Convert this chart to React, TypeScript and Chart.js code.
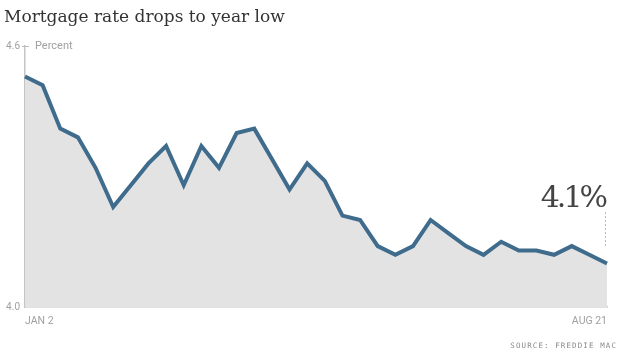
import React, { useEffect, useRef } from "react";
import { Chart, registerables } from "chart.js";

Chart.register(...registerables);

const dates = [
  "JAN 2", "JAN 9", "JAN 16", "JAN 23", "JAN 30",
  "FEB 6", "FEB 13", "FEB 20", "FEB 27",
  "MAR 6", "MAR 13", "MAR 20", "MAR 27",
  "APR 3", "APR 10", "APR 17", "APR 24",
  "MAY 1", "MAY 8", "MAY 15", "MAY 22", "MAY 29",
  "JUN 5", "JUN 12", "JUN 19", "JUN 26",
  "JUL 3", "JUL 10", "JUL 17", "JUL 24", "JUL 31",
  "AUG 7", "AUG 14", "AUG 21",
];

const rates = [
  4.53, 4.51, 4.41, 4.39, 4.32,
  4.23, 4.28, 4.33, 4.37,
  4.28, 4.37, 4.32, 4.40,
  4.41, 4.34, 4.27, 4.33,
  4.29, 4.21, 4.20, 4.14, 4.12,
  4.14, 4.20, 4.17, 4.14,
  4.12, 4.15, 4.13, 4.13, 4.12,
  4.14, 4.12, 4.10,
];

const yTicks = [4.0, 4.6];
const titleText = "Mortgage rate drops to year low";
const unitText = "Percent";
const calloutText = "4.1%";
const sourceText = "SOURCE: FREDDIE MAC";

const decorPlugin = {
  id: "decor",
  afterDraw(chart: any) {
    const ctx = chart.ctx;
    const area = chart.chartArea;
    const y = chart.scales.y;
    const x = chart.scales.x;
    ctx.save();
    // title
    ctx.fillStyle = "#333";
    ctx.font = '17px "DejaVu Serif"';
    ctx.textBaseline = "alphabetic";
    ctx.textAlign = "left";
    ctx.fillText(titleText, 4, 22);
    // top tick mark
    const yTop = y.getPixelForValue(yTicks[1]);
    ctx.strokeStyle = "#bbb";
    ctx.lineWidth = 1;
    ctx.beginPath();
    ctx.moveTo(area.left - 3, yTop + 0.5);
    ctx.lineTo(area.left + 4, yTop + 0.5);
    ctx.stroke();
    // unit label
    ctx.fillStyle = "#a0a0a0";
    ctx.font = '11px "Roboto"';
    ctx.textBaseline = "middle";
    ctx.fillText(unitText, area.left + 10, yTop);
    // callout
    const lastIdx = rates.length - 1;
    const lx = x.getPixelForValue(lastIdx);
    ctx.fillStyle = "#444";
    ctx.font = '30px "DejaVu Serif"';
    (ctx as any).letterSpacing = "-3px";
    ctx.textAlign = "right";
    ctx.textBaseline = "alphabetic";
    ctx.fillText(calloutText, lx - 2, 207);
    (ctx as any).letterSpacing = "0px";
    // dotted line
    ctx.strokeStyle = "#bbb";
    ctx.setLineDash([2, 2]);
    ctx.beginPath();
    ctx.moveTo(lx - 1.5, 212);
    ctx.lineTo(lx - 1.5, 248);
    ctx.stroke();
    ctx.setLineDash([]);
    // source
    ctx.fillStyle = "#8a8a8a";
    ctx.font = '7.5px "DejaVu Sans Mono"';
    (ctx as any).letterSpacing = "1.1px";
    ctx.textAlign = "right";
    ctx.textBaseline = "middle";
    ctx.fillText(sourceText, 617, 346);
    ctx.restore();
  },
};

export default function App() {
  const ref = useRef<HTMLCanvasElement>(null);
  useEffect(() => {
    if (!ref.current) return;
    const chart = new Chart(ref.current, {
      type: "line",
      data: {
        labels: dates,
        datasets: [
          {
            data: rates,
            borderColor: "#3f6b8c",
            borderWidth: 4,
            borderJoinStyle: "miter",
            backgroundColor: "#e3e3e3",
            fill: "start",
            pointRadius: 0,
            tension: 0,
          },
        ],
      },
      options: {
        animation: false,
        responsive: false,
        maintainAspectRatio: false,
        layout: { padding: { top: 46, right: 13, bottom: 0, left: 0 } },
        plugins: {
          legend: { display: false },
          tooltip: { enabled: false },
          title: { display: false },
        },
        scales: {
          x: {
            type: "category",
            offset: false,
            grid: { display: false, drawTicks: false },
            border: { display: true, color: "#c4c4c4", width: 1.5 },
            ticks: {
              autoSkip: false,
              maxRotation: 0,
              align: "inner",
              padding: 8,
              color: "#a0a0a0",
              font: { family: "Roboto", size: 10.5 },
              callback: (_v: any, i: number) =>
                i === 0 || i === dates.length - 1 ? dates[i] : "",
            },
            afterFit: (s: any) => {
              s.height = 48;
            },
          },
          y: {
            min: 4.0,
            max: 4.6,
            grid: { display: false, drawTicks: false },
            border: { display: true, color: "#c4c4c4", width: 1.5 },
            afterBuildTicks: (s: any) => {
              s.ticks = yTicks.map((v) => ({ value: v }));
            },
            ticks: {
              padding: 5,
              color: "#a0a0a0",
              font: { family: "Roboto", size: 10 },
              callback: (v: any) => Number(v).toFixed(1),
            },
            afterFit: (s: any) => {
              s.width = 25;
            },
          },
        },
      },
      plugins: [decorPlugin],
    });
    return () => chart.destroy();
  }, []);
  return (
    <div style={{ position: "fixed", left: 0, top: 0, width: 620, height: 355, background: "#fff" }}>
      <canvas ref={ref} width={620} height={355} style={{ width: 620, height: 355 }} />
    </div>
  );
}
